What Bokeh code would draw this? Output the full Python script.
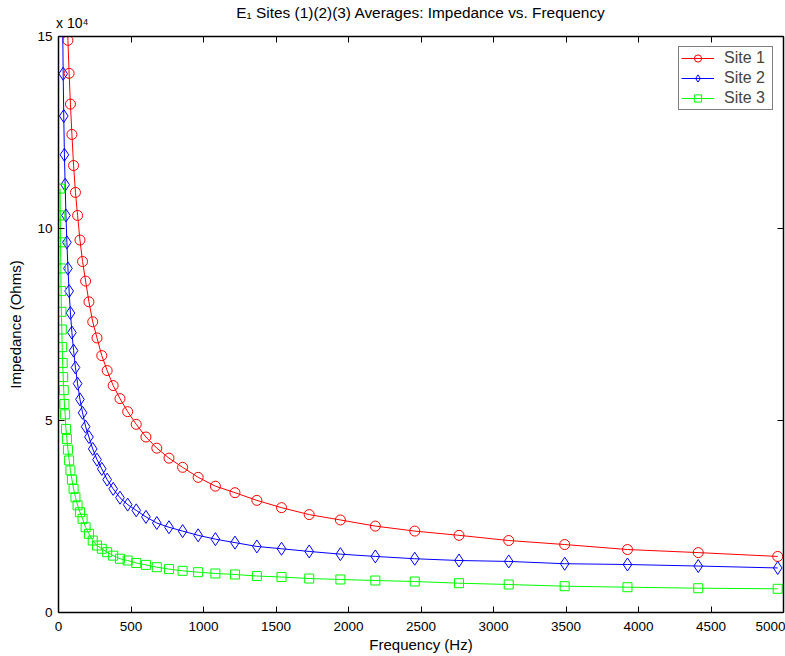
from bokeh.plotting import figure
from bokeh.models import (Range1d, FixedTicker, CustomJSTickFormatter, LinearAxis,
                          Legend, LegendItem)
from bokeh.embed import file_html
from bokeh.resources import INLINE

# Measurement frequencies (Hz), shared by all three sites
FREQ_HZ = [10.0, 11.2, 12.6, 14.2, 16.0, 18.0, 20.2, 22.7, 25.5, 28.7,
           32.3, 36.3, 40.8, 45.8, 51.5, 57.9, 65.1, 73.2, 82.3, 92.5,
           104, 117, 131.5, 148, 166, 187, 210, 236, 265.5, 298.5,
           335.6, 377, 424, 477, 536, 603, 678, 762, 856, 963,
           1082, 1217, 1368, 1538, 1729, 1944, 2185, 2457, 2762, 3105,
           3491, 3924, 4412, 4960]

# Averaged impedance (Ohms); each site's readings start at a different index of FREQ_HZ
SITE1_START = 15
SITE1_OHMS = [158000, 149000, 140400, 132400, 124500, 116400, 109400, 103400, 97000, 91400,
              86300, 80900, 75700, 71500, 66900, 63000, 59100, 55700, 52300, 49000,
              45700, 42800, 40200, 37800, 35200, 32900, 31200, 29200, 27300, 25500,
              24100, 22500, 21200, 20100, 18750, 17700, 16400, 15600, 14600]

SITE2_START = 9
SITE2_OHMS = [153000, 140300, 129300, 119200, 111400, 103400, 96400, 89600, 83700, 78000,
              72900, 68200, 63800, 59600, 55500, 52000, 48400, 45700, 42600, 39800,
              37400, 34600, 32200, 29900, 28100, 26600, 24900, 23300, 22200, 21200,
              20100, 19100, 18200, 17200, 16600, 15900, 15200, 14600, 14000, 13540,
              13300, 12700, 12500, 12100, 11600]

SITE3_START = 1
SITE3_OHMS = [110400, 103400, 96400, 89600, 83700, 78300, 73700, 69100, 65000, 61300,
              57900, 54300, 51600, 47800, 45200, 42400, 39600, 37000, 34600, 32200,
              30000, 27900, 26100, 24400, 22200, 20500, 18750, 17450, 16600, 15700,
              14800, 14000, 13540, 12900, 12400, 11800, 11300, 10860, 10500, 10160,
              9900, 9500, 9240, 8850, 8600, 8330, 8070, 7630, 7290, 6850,
              6590, 6330, 6170]

X_TICKS = [0, 500, 1000, 1500, 2000, 2500, 3000, 3500, 4000, 4500, 5000]
Y_TICKS = [0, 50000, 100000, 150000]

TITLE = "E\u2081 Sites (1)(2)(3) Averages: Impedance vs. Frequency"
Y_SCALE_NOTE = "x 10\u2074"
Y_SCALE_NOTE_AT = 95  # Hz position of the multiplier note along the top edge

FONT = "Liberation Sans"

p = figure(width=785, height=656, output_backend="svg", toolbar_location=None,
           x_range=Range1d(0, 5000), y_range=Range1d(0, 150000),
           min_border_left=58, min_border_right=2, min_border_top=36, min_border_bottom=44,
           x_axis_label="Frequency (Hz)", y_axis_label="Impedance (Ohms)")
p.title.visible = False
p.grid.visible = False
p.outline_line_color = None
p.background_fill_color = "white"
p.border_fill_color = "white"


def style_axis(ax, ticks):
    ax.ticker = FixedTicker(ticks=ticks)
    ax.axis_line_color = "black"
    ax.axis_line_width = 1.5
    ax.major_tick_line_color = "black"
    ax.major_tick_in = 6
    ax.major_tick_out = 0
    ax.minor_tick_in = 0
    ax.minor_tick_out = 0
    ax.major_label_text_font = FONT
    ax.major_label_text_font_size = "13.5px"
    ax.major_label_text_color = "black"
    ax.axis_label_text_font = FONT
    ax.axis_label_text_font_size = "15px"
    ax.axis_label_text_font_style = "normal"
    ax.axis_label_text_color = "black"


xb = p.xaxis[0]
style_axis(xb, X_TICKS)
xb.major_label_standoff = 9
xb.axis_label_standoff = 2

yl = p.yaxis[0]
style_axis(yl, Y_TICKS)
yl.formatter = CustomJSTickFormatter(code="return (tick / 10000).toFixed(0);")
yl.major_label_standoff = 6
yl.axis_label_standoff = 10

# Box-style frame: tick marks on the top and right edges too
for loc, ticks in (("above", X_TICKS), ("right", Y_TICKS)):
    ax = LinearAxis()
    style_axis(ax, ticks)
    ax.major_label_text_font_size = "0px"
    ax.major_label_standoff = 0
    ax.major_label_overrides = {t: "" for t in ticks}
    p.add_layout(ax, loc)

# Outer top strip: the y-scale multiplier at the left corner and the chart title
head = LinearAxis(ticker=FixedTicker(ticks=[Y_SCALE_NOTE_AT]),
                  formatter=CustomJSTickFormatter(code="return '%s';" % Y_SCALE_NOTE),
                  axis_label=TITLE)
head.axis_line_color = None
head.major_tick_in = 0
head.major_tick_out = 0
head.minor_tick_in = 0
head.minor_tick_out = 0
head.major_label_standoff = 6
head.major_label_text_font = FONT
head.major_label_text_font_size = "14px"
head.major_label_text_color = "black"
head.axis_label_standoff = -9
head.axis_label_text_font = FONT
head.axis_label_text_font_size = "15.4px"
head.axis_label_text_font_style = "normal"
head.axis_label_text_color = "black"
p.add_layout(head, "above")

site_specs = [
    ("Site 1", SITE1_START, SITE1_OHMS, "#ff0000", "circle", 10),
    ("Site 2", SITE2_START, SITE2_OHMS, "#0000ff", "diamond", 13),
    ("Site 3", SITE3_START, SITE3_OHMS, "#00ff00", "square", 9),
]

items = []
for name, start, ohms, color, marker, size in site_specs:
    freqs = FREQ_HZ[start:start + len(ohms)]
    ln = p.line(freqs, ohms, line_color=color, line_width=1)
    sc = p.scatter(freqs, ohms, marker=marker, size=size, line_color=color,
                   line_width=1, fill_color=None)
    items.append(LegendItem(label=name, renderers=[ln, sc]))

legend = Legend(items=items, location="top_right", margin=10,
                border_line_color="black", border_line_width=1,
                background_fill_color="white", background_fill_alpha=1.0,
                label_text_font=FONT, label_text_font_size="16px",
                glyph_width=33, glyph_height=18, label_height=18, label_width=46,
                label_standoff=10, padding=2, spacing=2)
p.add_layout(legend)

open("out.html", "w").write(file_html(p, INLINE))
